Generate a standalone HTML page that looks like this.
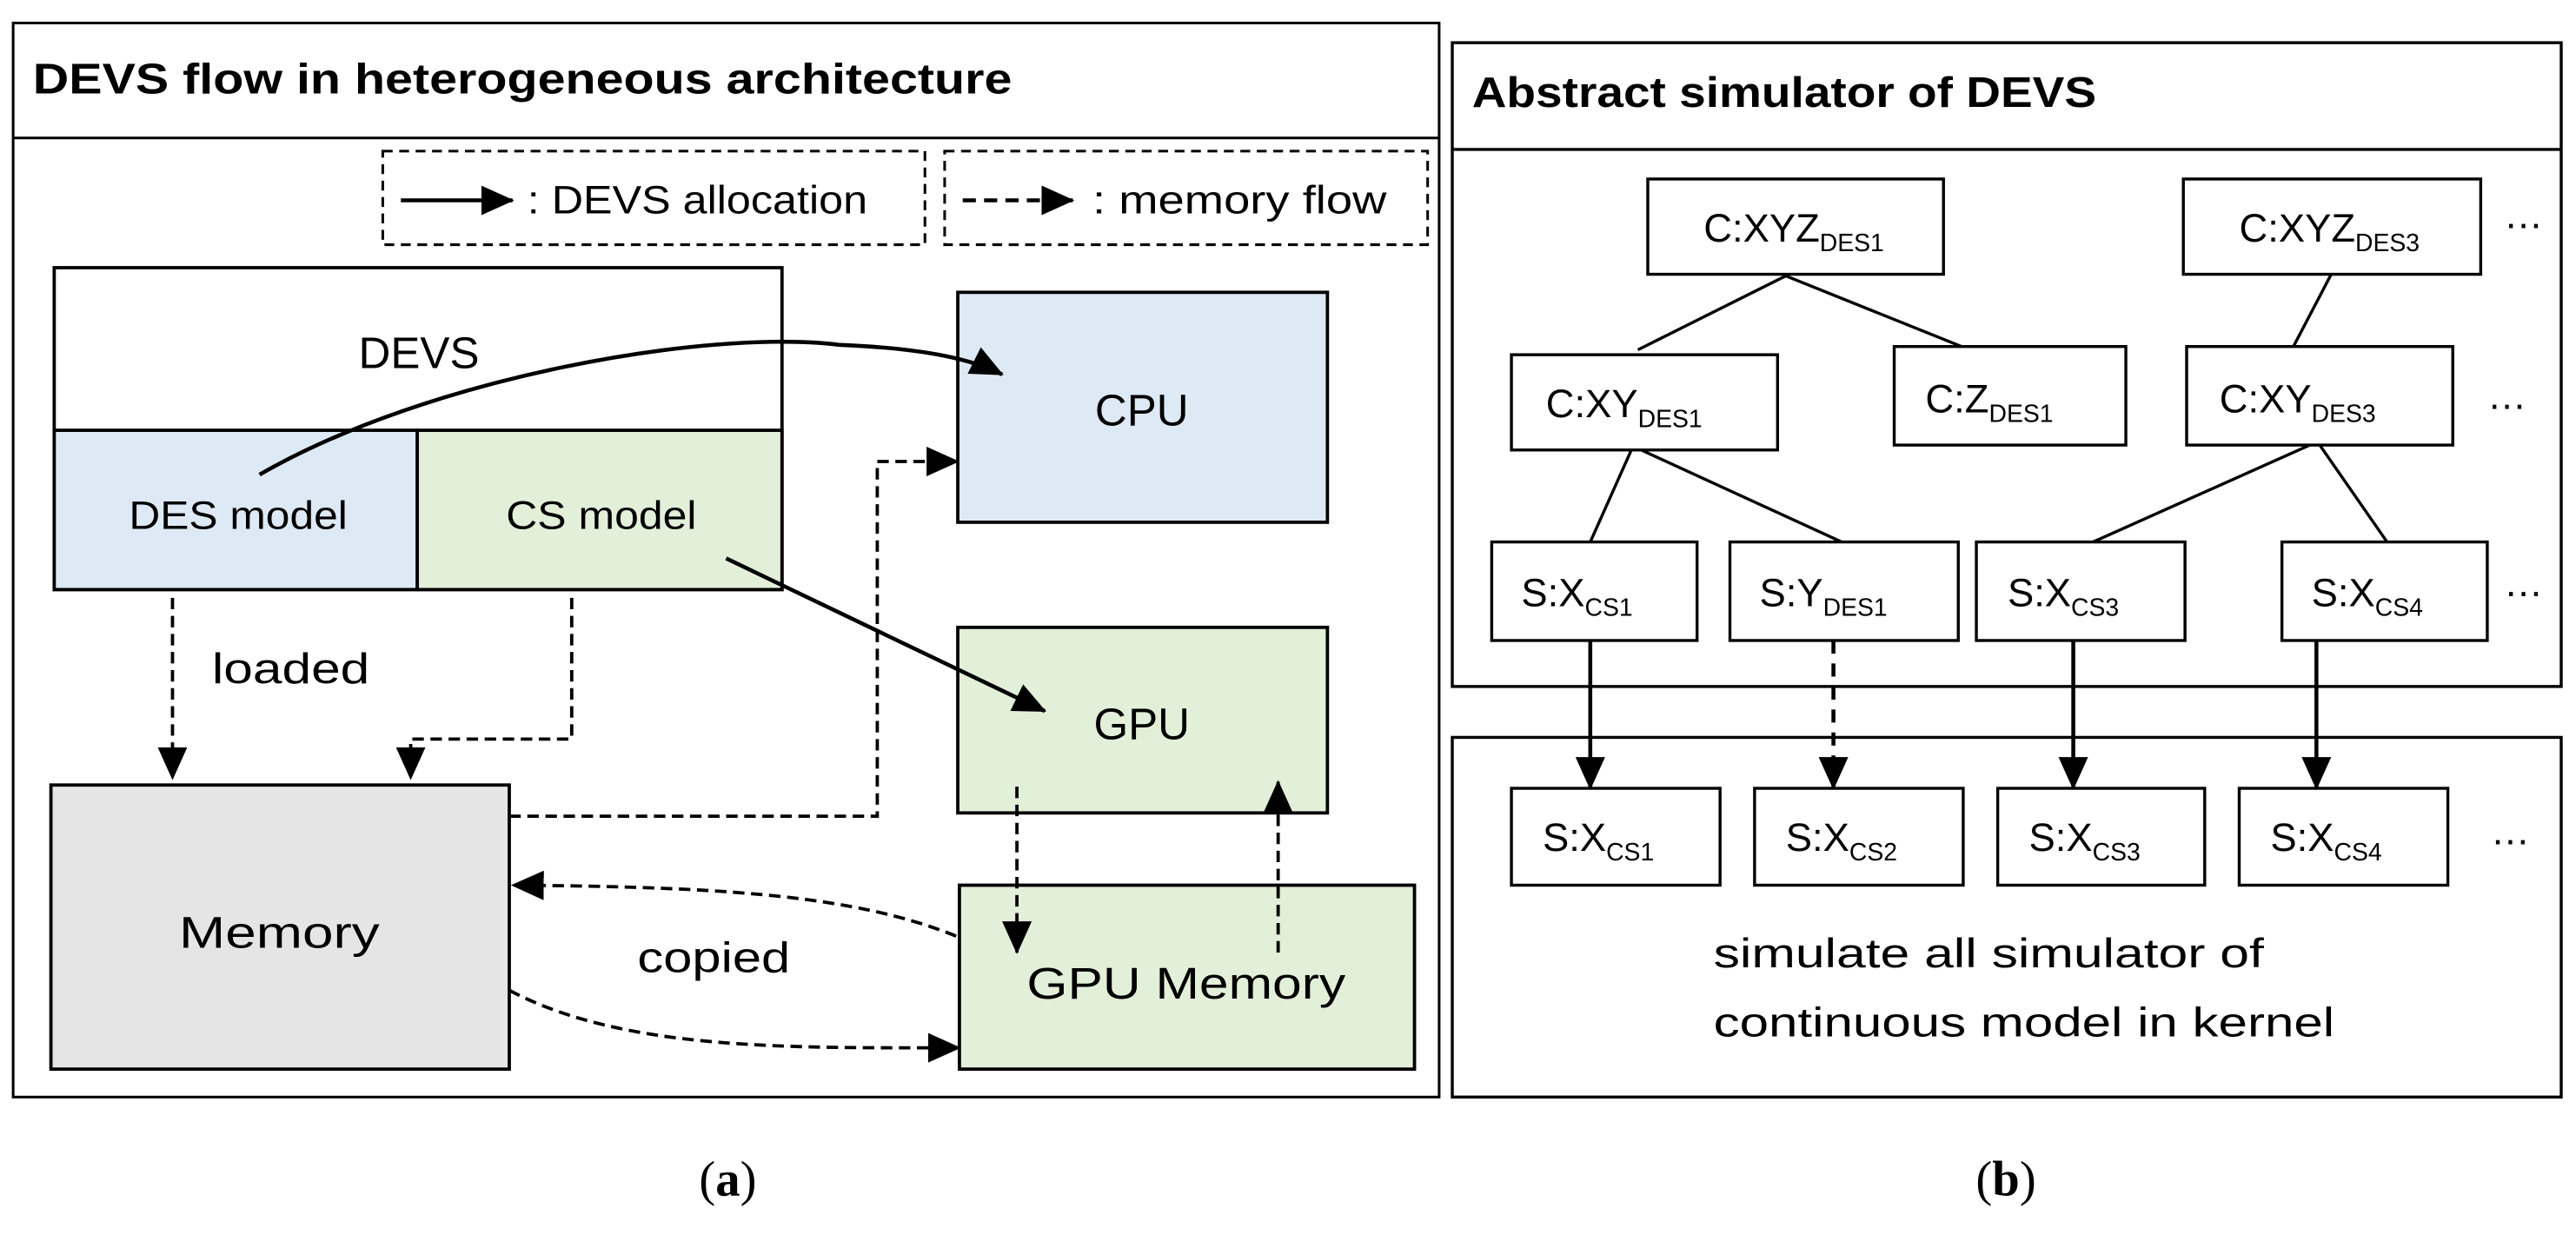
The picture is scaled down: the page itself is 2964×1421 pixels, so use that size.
<!DOCTYPE html>
<html><head><meta charset="utf-8"><style>html,body{margin:0;padding:0;background:#fff}svg{display:block}</style></head>
<body>
<svg width="2964" height="1421" viewBox="0 0 1568 752" preserveAspectRatio="none" xmlns="http://www.w3.org/2000/svg" font-family="Liberation Sans, sans-serif">
<defs>
<marker id="ahb" markerWidth="20" markerHeight="18" refX="19" refY="9" orient="auto" markerUnits="userSpaceOnUse" viewBox="0 0 20 18"><path d="M0,0 L20,9 L0,18 z" fill="#000"/></marker>
</defs>
<g fill="none" stroke="#000" stroke-width="1.6">
<rect x="8" y="14" width="868" height="654"/>
<line x1="8" y1="84" x2="876" y2="84"/>
<rect x="233" y="92" width="330" height="57" stroke-dasharray="6,4"/>
<rect x="575" y="92" width="294" height="57" stroke-dasharray="6,4"/>
<rect x="33" y="163" width="443" height="196" stroke-width="2"/>
<rect x="33" y="262" width="221" height="97" fill="#dde9f5" stroke-width="2"/>
<rect x="254" y="262" width="222" height="97" fill="#e2efd9" stroke-width="2"/>
<rect x="583" y="178" width="225" height="140" fill="#dde9f5" stroke-width="2"/>
<rect x="583" y="382" width="225" height="113" fill="#e2efd9" stroke-width="2"/>
<rect x="31" y="478" width="279" height="173" fill="#e5e5e5" stroke-width="2"/>
<rect x="584" y="539" width="277" height="112" fill="#e2efd9" stroke-width="2"/>
</g>
<g fill="none" stroke="#000" stroke-width="2.4">
<line x1="244" y1="122" x2="312" y2="122" marker-end="url(#ahb)"/>
<line x1="586" y1="122" x2="653" y2="122" stroke-dasharray="8,5" marker-end="url(#ahb)"/>
<path d="M158,289 C260,230 430,200 511,210 C560,212 590,218 610,228" marker-end="url(#ahb)"/>
<line x1="442" y1="340" x2="636" y2="433" marker-end="url(#ahb)"/>
</g>
<g fill="none" stroke="#000" stroke-width="2" stroke-dasharray="7,4">
<path d="M105,364 V474" marker-end="url(#ahb)"/>
<path d="M348,364 V450 H250 V474" marker-end="url(#ahb)"/>
<path d="M310,497 H534 V281 H583" marker-end="url(#ahb)"/>
<path d="M619,479 V580" marker-end="url(#ahb)"/>
<path d="M778,580 V476" marker-end="url(#ahb)"/>
<path d="M582,570 C520,545 440,540 312,539" marker-end="url(#ahb)"/>
<path d="M310,603 C380,640 480,638 584,638" marker-end="url(#ahb)"/>
</g>
<g fill="#000" font-size="24">
<text x="20" y="57" font-weight="bold" font-size="26" textLength="596" lengthAdjust="spacingAndGlyphs">DEVS flow in heterogeneous architecture</text>
<text x="321" y="130" textLength="207" lengthAdjust="spacingAndGlyphs">: DEVS allocation</text>
<text x="665" y="130" textLength="179" lengthAdjust="spacingAndGlyphs">: memory flow</text>
<text x="255" y="224" text-anchor="middle" font-size="27">DEVS</text>
<text x="145" y="322" text-anchor="middle" font-size="24" textLength="133" lengthAdjust="spacingAndGlyphs">DES model</text>
<text x="366" y="322" text-anchor="middle" font-size="24" textLength="116" lengthAdjust="spacingAndGlyphs">CS model</text>
<text x="695" y="259" text-anchor="middle" font-size="27">CPU</text>
<text x="695" y="450" text-anchor="middle" font-size="27">GPU</text>
<text x="170" y="577" text-anchor="middle" font-size="27" textLength="122" lengthAdjust="spacingAndGlyphs">Memory</text>
<text x="722" y="608" text-anchor="middle" font-size="27" textLength="194" lengthAdjust="spacingAndGlyphs">GPU Memory</text>
<text x="129" y="416" font-size="26" textLength="96" lengthAdjust="spacingAndGlyphs">loaded</text>
<text x="388" y="592" font-size="26" textLength="93" lengthAdjust="spacingAndGlyphs">copied</text>
<text x="443" y="728" text-anchor="middle" font-family="Liberation Serif, serif" font-size="30">(<tspan font-weight="bold">a</tspan>)</text>
</g>
<g fill="none" stroke="#000" stroke-width="1.8">
<rect x="884" y="26" width="675" height="392"/>
<line x1="884" y1="91" x2="1559" y2="91"/>
<rect x="884" y="449" width="675" height="219"/>
<rect x="1003" y="109" width="180" height="58"/>
<rect x="1329" y="109" width="181" height="58"/>
<rect x="920" y="216" width="162" height="58"/>
<rect x="1153" y="211" width="141" height="60"/>
<rect x="1331" y="211" width="162" height="60"/>
<rect x="908" y="330" width="125" height="60"/>
<rect x="1053" y="330" width="139" height="60"/>
<rect x="1203" y="330" width="127" height="60"/>
<rect x="1389" y="330" width="125" height="60"/>
<rect x="920" y="480" width="127" height="59"/>
<rect x="1068" y="480" width="127" height="59"/>
<rect x="1216" y="480" width="126" height="59"/>
<rect x="1363" y="480" width="127" height="59"/>
<line x1="1087" y1="168" x2="997" y2="213"/>
<line x1="1087" y1="168" x2="1194" y2="211"/>
<line x1="1419" y1="167" x2="1396" y2="211"/>
<line x1="993" y1="274" x2="968" y2="330"/>
<line x1="999" y1="274" x2="1121" y2="330"/>
<line x1="1406" y1="271" x2="1274" y2="330"/>
<line x1="1412" y1="271" x2="1453" y2="330"/>
</g>
<g fill="none" stroke="#000" stroke-width="2.4">
<line x1="968" y1="390" x2="968" y2="480" marker-end="url(#ahb)"/>
<line x1="1116" y1="390" x2="1116" y2="480" stroke-dasharray="8,6" marker-end="url(#ahb)"/>
<line x1="1262" y1="390" x2="1262" y2="480" marker-end="url(#ahb)"/>
<line x1="1410" y1="390" x2="1410" y2="480" marker-end="url(#ahb)"/>
</g>
<g fill="#000" font-size="24">
<text x="896" y="65" font-weight="bold" font-size="26" textLength="380" lengthAdjust="spacingAndGlyphs">Abstract simulator of DEVS</text>
<text x="1037" y="147">C:XYZ<tspan font-size="15" dy="6">DES1</tspan></text>
<text x="1363" y="147">C:XYZ<tspan font-size="15" dy="6">DES3</tspan></text>
<text x="1524" y="139">…</text>
<text x="941" y="254">C:XY<tspan font-size="15" dy="6">DES1</tspan></text>
<text x="1172" y="251">C:Z<tspan font-size="15" dy="6">DES1</tspan></text>
<text x="1351" y="251">C:XY<tspan font-size="15" dy="6">DES3</tspan></text>
<text x="1514" y="249">…</text>
<text x="926" y="369">S:X<tspan font-size="15" dy="6">CS1</tspan></text>
<text x="1071" y="369">S:Y<tspan font-size="15" dy="6">DES1</tspan></text>
<text x="1222" y="369">S:X<tspan font-size="15" dy="6">CS3</tspan></text>
<text x="1407" y="369">S:X<tspan font-size="15" dy="6">CS4</tspan></text>
<text x="1524" y="363">…</text>
<text x="939" y="518">S:X<tspan font-size="15" dy="6">CS1</tspan></text>
<text x="1087" y="518">S:X<tspan font-size="15" dy="6">CS2</tspan></text>
<text x="1235" y="518">S:X<tspan font-size="15" dy="6">CS3</tspan></text>
<text x="1382" y="518">S:X<tspan font-size="15" dy="6">CS4</tspan></text>
<text x="1516" y="514">…</text>
<text x="1043" y="589" font-size="25" textLength="335" lengthAdjust="spacingAndGlyphs">simulate all simulator of</text>
<text x="1043" y="631" font-size="25" textLength="378" lengthAdjust="spacingAndGlyphs">continuous model in kernel</text>
<text x="1221" y="728" text-anchor="middle" font-family="Liberation Serif, serif" font-size="30">(<tspan font-weight="bold">b</tspan>)</text>
</g>
</svg>
</body></html>
